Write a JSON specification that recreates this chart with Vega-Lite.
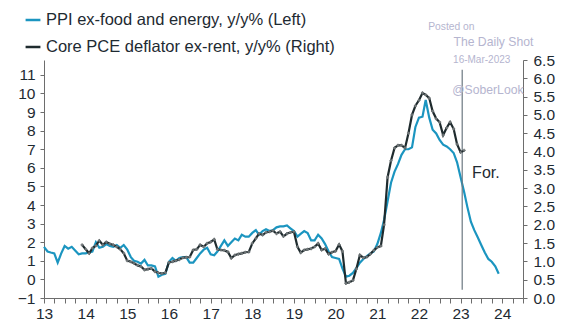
{
  "$schema": "https://vega.github.io/schema/vega-lite/v6.json",
  "width": 479,
  "height": 238,
  "autosize": "none",
  "padding": {"left": 44, "top": 60, "right": 41, "bottom": 33},
  "background": "white",
  "config": {
    "view": {"stroke": null},
    "font": "Liberation Sans",
    "axis": {"labelFont": "Liberation Sans", "labelColor": "#1e2a32", "domainColor": "#6d6d6d", "tickColor": "#6d6d6d", "grid": false, "labelFontSize": 15.5, "labelOverlap": false}
  },
  "datasets": {
    "ppi": [
      {"date": "2013-01-01", "v": 1.75}, {"date": "2013-02-01", "v": 1.5}, {"date": "2013-03-01", "v": 1.45}, {"date": "2013-04-01", "v": 1.4}, {"date": "2013-05-01", "v": 0.9}, {"date": "2013-06-01", "v": 1.4}, {"date": "2013-07-01", "v": 1.8}, {"date": "2013-08-01", "v": 1.65}, {"date": "2013-09-01", "v": 1.75}, {"date": "2013-10-01", "v": 1.55}, {"date": "2013-11-01", "v": 1.35}, {"date": "2013-12-01", "v": 1.4},
      {"date": "2014-01-01", "v": 1.4}, {"date": "2014-02-01", "v": 1.45}, {"date": "2014-03-01", "v": 1.5}, {"date": "2014-04-01", "v": 2.0}, {"date": "2014-05-01", "v": 1.7}, {"date": "2014-06-01", "v": 1.75}, {"date": "2014-07-01", "v": 1.9}, {"date": "2014-08-01", "v": 1.8}, {"date": "2014-09-01", "v": 1.75}, {"date": "2014-10-01", "v": 1.85}, {"date": "2014-11-01", "v": 1.7}, {"date": "2014-12-01", "v": 1.85},
      {"date": "2015-01-01", "v": 1.6}, {"date": "2015-02-01", "v": 1.2}, {"date": "2015-03-01", "v": 1.0}, {"date": "2015-04-01", "v": 0.95}, {"date": "2015-05-01", "v": 0.85}, {"date": "2015-06-01", "v": 1.05}, {"date": "2015-07-01", "v": 0.75}, {"date": "2015-08-01", "v": 0.75}, {"date": "2015-09-01", "v": 0.7}, {"date": "2015-10-01", "v": 0.15}, {"date": "2015-11-01", "v": 0.25}, {"date": "2015-12-01", "v": 0.3},
      {"date": "2016-01-01", "v": 0.95}, {"date": "2016-02-01", "v": 1.15}, {"date": "2016-03-01", "v": 1.0}, {"date": "2016-04-01", "v": 1.15}, {"date": "2016-05-01", "v": 1.2}, {"date": "2016-06-01", "v": 1.2}, {"date": "2016-07-01", "v": 0.9}, {"date": "2016-08-01", "v": 0.9}, {"date": "2016-09-01", "v": 1.15}, {"date": "2016-10-01", "v": 1.4}, {"date": "2016-11-01", "v": 1.6}, {"date": "2016-12-01", "v": 1.7},
      {"date": "2017-01-01", "v": 1.35}, {"date": "2017-02-01", "v": 1.3}, {"date": "2017-03-01", "v": 1.5}, {"date": "2017-04-01", "v": 1.8}, {"date": "2017-05-01", "v": 2.1}, {"date": "2017-06-01", "v": 1.8}, {"date": "2017-07-01", "v": 2.0}, {"date": "2017-08-01", "v": 2.2}, {"date": "2017-09-01", "v": 2.1}, {"date": "2017-10-01", "v": 2.4}, {"date": "2017-11-01", "v": 2.3}, {"date": "2017-12-01", "v": 2.3},
      {"date": "2018-01-01", "v": 2.5}, {"date": "2018-02-01", "v": 2.65}, {"date": "2018-03-01", "v": 2.4}, {"date": "2018-04-01", "v": 2.6}, {"date": "2018-05-01", "v": 2.7}, {"date": "2018-06-01", "v": 2.6}, {"date": "2018-07-01", "v": 2.65}, {"date": "2018-08-01", "v": 2.8}, {"date": "2018-09-01", "v": 2.85}, {"date": "2018-10-01", "v": 2.85}, {"date": "2018-11-01", "v": 2.9}, {"date": "2018-12-01", "v": 2.75},
      {"date": "2019-01-01", "v": 2.6}, {"date": "2019-02-01", "v": 2.3}, {"date": "2019-03-01", "v": 2.45}, {"date": "2019-04-01", "v": 2.6}, {"date": "2019-05-01", "v": 2.5}, {"date": "2019-06-01", "v": 2.1}, {"date": "2019-07-01", "v": 2.1}, {"date": "2019-08-01", "v": 2.4}, {"date": "2019-09-01", "v": 2.2}, {"date": "2019-10-01", "v": 1.9}, {"date": "2019-11-01", "v": 1.5}, {"date": "2019-12-01", "v": 1.2},
      {"date": "2020-01-01", "v": 1.15}, {"date": "2020-02-01", "v": 1.1}, {"date": "2020-03-01", "v": 0.6}, {"date": "2020-04-01", "v": 0.15}, {"date": "2020-05-01", "v": 0.2}, {"date": "2020-06-01", "v": 0.35}, {"date": "2020-07-01", "v": 0.6}, {"date": "2020-08-01", "v": 0.9}, {"date": "2020-09-01", "v": 1.1}, {"date": "2020-10-01", "v": 1.25}, {"date": "2020-11-01", "v": 1.4}, {"date": "2020-12-01", "v": 1.5},
      {"date": "2021-01-01", "v": 1.9}, {"date": "2021-02-01", "v": 2.5}, {"date": "2021-03-01", "v": 3.2}, {"date": "2021-04-01", "v": 4.2}, {"date": "2021-05-01", "v": 5.2}, {"date": "2021-06-01", "v": 5.8}, {"date": "2021-07-01", "v": 6.2}, {"date": "2021-08-01", "v": 6.7}, {"date": "2021-09-01", "v": 7.0}, {"date": "2021-10-01", "v": 7.0}, {"date": "2021-11-01", "v": 7.1}, {"date": "2021-12-01", "v": 8.2},
      {"date": "2022-01-01", "v": 8.7}, {"date": "2022-02-01", "v": 8.75}, {"date": "2022-03-01", "v": 9.65}, {"date": "2022-04-01", "v": 8.7}, {"date": "2022-05-01", "v": 8.05}, {"date": "2022-06-01", "v": 7.85}, {"date": "2022-07-01", "v": 7.5}, {"date": "2022-08-01", "v": 7.25}, {"date": "2022-09-01", "v": 7.15}, {"date": "2022-10-01", "v": 7.0}, {"date": "2022-11-01", "v": 6.8}, {"date": "2022-12-01", "v": 6.3},
      {"date": "2023-01-01", "v": 5.5}, {"date": "2023-02-01", "v": 4.7}, {"date": "2023-03-01", "v": 3.9}, {"date": "2023-04-01", "v": 3.1}, {"date": "2023-05-01", "v": 2.65}, {"date": "2023-06-01", "v": 2.25}, {"date": "2023-07-01", "v": 1.85}, {"date": "2023-08-01", "v": 1.45}, {"date": "2023-09-01", "v": 1.1}, {"date": "2023-10-01", "v": 0.95}, {"date": "2023-11-01", "v": 0.7}, {"date": "2023-12-01", "v": 0.3}
    ],
    "pce": [
      {"date": "2013-12-01", "v": 1.45},
      {"date": "2014-01-01", "v": 1.33}, {"date": "2014-02-01", "v": 1.22}, {"date": "2014-03-01", "v": 1.36}, {"date": "2014-04-01", "v": 1.43}, {"date": "2014-05-01", "v": 1.57}, {"date": "2014-06-01", "v": 1.45}, {"date": "2014-07-01", "v": 1.53}, {"date": "2014-08-01", "v": 1.48}, {"date": "2014-09-01", "v": 1.45}, {"date": "2014-10-01", "v": 1.4}, {"date": "2014-11-01", "v": 1.33}, {"date": "2014-12-01", "v": 1.22},
      {"date": "2015-01-01", "v": 1.02}, {"date": "2015-02-01", "v": 0.99}, {"date": "2015-03-01", "v": 0.95}, {"date": "2015-04-01", "v": 0.89}, {"date": "2015-05-01", "v": 0.86}, {"date": "2015-06-01", "v": 0.77}, {"date": "2015-07-01", "v": 0.79}, {"date": "2015-08-01", "v": 0.81}, {"date": "2015-09-01", "v": 0.72}, {"date": "2015-10-01", "v": 0.69}, {"date": "2015-11-01", "v": 0.67}, {"date": "2015-12-01", "v": 0.69},
      {"date": "2016-01-01", "v": 0.97}, {"date": "2016-02-01", "v": 0.99}, {"date": "2016-03-01", "v": 1.02}, {"date": "2016-04-01", "v": 1.05}, {"date": "2016-05-01", "v": 1.1}, {"date": "2016-06-01", "v": 1.11}, {"date": "2016-07-01", "v": 1.12}, {"date": "2016-08-01", "v": 1.31}, {"date": "2016-09-01", "v": 1.33}, {"date": "2016-10-01", "v": 1.45}, {"date": "2016-11-01", "v": 1.4}, {"date": "2016-12-01", "v": 1.49},
      {"date": "2017-01-01", "v": 1.53}, {"date": "2017-02-01", "v": 1.6}, {"date": "2017-03-01", "v": 1.33}, {"date": "2017-04-01", "v": 1.31}, {"date": "2017-05-01", "v": 1.3}, {"date": "2017-06-01", "v": 1.26}, {"date": "2017-07-01", "v": 1.09}, {"date": "2017-08-01", "v": 1.17}, {"date": "2017-09-01", "v": 1.2}, {"date": "2017-10-01", "v": 1.22}, {"date": "2017-11-01", "v": 1.25}, {"date": "2017-12-01", "v": 1.26},
      {"date": "2018-01-01", "v": 1.49}, {"date": "2018-02-01", "v": 1.63}, {"date": "2018-03-01", "v": 1.76}, {"date": "2018-04-01", "v": 1.72}, {"date": "2018-05-01", "v": 1.79}, {"date": "2018-06-01", "v": 1.81}, {"date": "2018-07-01", "v": 1.84}, {"date": "2018-08-01", "v": 1.76}, {"date": "2018-09-01", "v": 1.81}, {"date": "2018-10-01", "v": 1.68}, {"date": "2018-11-01", "v": 1.76}, {"date": "2018-12-01", "v": 1.79},
      {"date": "2019-01-01", "v": 1.81}, {"date": "2019-02-01", "v": 1.4}, {"date": "2019-03-01", "v": 1.24}, {"date": "2019-04-01", "v": 1.31}, {"date": "2019-05-01", "v": 1.33}, {"date": "2019-06-01", "v": 1.35}, {"date": "2019-07-01", "v": 1.4}, {"date": "2019-08-01", "v": 1.49}, {"date": "2019-09-01", "v": 1.31}, {"date": "2019-10-01", "v": 1.35}, {"date": "2019-11-01", "v": 1.2}, {"date": "2019-12-01", "v": 1.25},
      {"date": "2020-01-01", "v": 1.28}, {"date": "2020-02-01", "v": 1.46}, {"date": "2020-03-01", "v": 1.28}, {"date": "2020-04-01", "v": 0.4}, {"date": "2020-05-01", "v": 0.43}, {"date": "2020-06-01", "v": 0.48}, {"date": "2020-07-01", "v": 0.79}, {"date": "2020-08-01", "v": 1.17}, {"date": "2020-09-01", "v": 1.1}, {"date": "2020-10-01", "v": 1.12}, {"date": "2020-11-01", "v": 1.2}, {"date": "2020-12-01", "v": 1.3},
      {"date": "2021-01-01", "v": 1.38}, {"date": "2021-02-01", "v": 1.42}, {"date": "2021-03-01", "v": 2.0}, {"date": "2021-04-01", "v": 3.3}, {"date": "2021-05-01", "v": 3.75}, {"date": "2021-06-01", "v": 4.1}, {"date": "2021-07-01", "v": 4.17}, {"date": "2021-08-01", "v": 4.17}, {"date": "2021-09-01", "v": 4.1}, {"date": "2021-10-01", "v": 4.5}, {"date": "2021-11-01", "v": 5.0}, {"date": "2021-12-01", "v": 5.25},
      {"date": "2022-01-01", "v": 5.4}, {"date": "2022-02-01", "v": 5.6}, {"date": "2022-03-01", "v": 5.55}, {"date": "2022-04-01", "v": 5.46}, {"date": "2022-05-01", "v": 5.1}, {"date": "2022-06-01", "v": 4.9}, {"date": "2022-07-01", "v": 4.8}, {"date": "2022-08-01", "v": 4.45}, {"date": "2022-09-01", "v": 4.65}, {"date": "2022-10-01", "v": 4.8}, {"date": "2022-11-01", "v": 4.62}, {"date": "2022-12-01", "v": 4.2},
      {"date": "2023-01-01", "v": 3.98}, {"date": "2023-02-01", "v": 4.03}
    ],
    "one": [{}]
  },
  "layer": [
    {
      "layer": [
        {
          "data": {"name": "ppi"},
          "mark": {"type": "line", "strokeWidth": 2.2, "color": "#1b95c0"},
          "encoding": {
            "x": {
              "field": "date", "type": "temporal", "title": null,
              "scale": {"type": "utc", "domain": [{"year": 2013, "month": 1, "date": 1, "utc": true}, {"year": 2024, "month": 7, "date": 1, "utc": true}]},
              "axis": {"tickCount": {"interval": "month", "step": 3}, "labelExpr": "utcmonth(datum.value) == 0 ? utcFormat(datum.value, '%y') : ''", "labelOverlap": false, "labelFlush": false, "tickSize": 5, "labelPadding": 3, "title": null}
            },
            "y": {
              "field": "v", "type": "quantitative", "title": null,
              "scale": {"domain": [-1, 11.8], "nice": false, "zero": false},
              "axis": {"values": [-1, 0, 1, 2, 3, 4, 5, 6, 7, 8, 9, 10, 11], "tickCount": 30, "format": "d", "tickSize": 4, "labelPadding": 5, "labelOverlap": false, "title": null}
            },
            "color": {
              "datum": "PPI ex-food and energy, y/y% (Left)",
              "type": "nominal",
              "scale": {"domain": ["PPI ex-food and energy, y/y% (Left)", "Core PCE deflator ex-rent, y/y% (Right)"], "range": ["#1b95c0", "#1f2b2e"]},
              "legend": {"orient": "none", "legendX": -20, "legendY": -49, "direction": "vertical", "title": null, "symbolType": "stroke", "symbolStrokeWidth": 2.5, "symbolSize": 220, "labelFontSize": 16.5, "labelFont": "Liberation Sans", "labelColor": "#1e2a32", "rowPadding": 9, "labelOffset": 4, "labelLimit": 400}
            }
          }
        },
        {
          "data": {"name": "one"},
          "mark": {"type": "rule", "color": "#6b7880", "strokeWidth": 1.2},
          "encoding": {
            "x": {"datum": {"year": 2023, "month": 1, "date": 15, "utc": true}, "type": "temporal"},
            "y": {"datum": 11.28, "type": "quantitative"},
            "y2": {"datum": -0.55}
          }
        },
        {
          "data": {"name": "one"},
          "mark": {"type": "text", "text": "For.", "align": "left", "baseline": "middle", "fontSize": 16, "color": "#1e2a32"},
          "encoding": {
            "x": {"datum": {"year": 2023, "month": 4, "date": 12, "utc": true}, "type": "temporal"},
            "y": {"datum": 5.72, "type": "quantitative"}
          }
        },
        {
          "data": {"name": "one"},
          "mark": {"type": "text", "text": "Posted on", "align": "center", "baseline": "middle", "fontSize": 10.3, "color": "#b5b5cf"},
          "encoding": {
            "x": {"datum": {"year": 2022, "month": 10, "date": 12, "utc": true}, "type": "temporal"},
            "y": {"datum": 13.58, "type": "quantitative"}
          }
        },
        {
          "data": {"name": "one"},
          "mark": {"type": "text", "text": "The Daily Shot", "align": "center", "baseline": "middle", "fontSize": 12.2, "color": "#b5b5cf"},
          "encoding": {
            "x": {"datum": {"year": 2023, "month": 10, "date": 16, "utc": true}, "type": "temporal"},
            "y": {"datum": 12.77, "type": "quantitative"}
          }
        },
        {
          "data": {"name": "one"},
          "mark": {"type": "text", "text": "16-Mar-2023", "align": "center", "baseline": "middle", "fontSize": 10, "color": "#b5b5cf"},
          "encoding": {
            "x": {"datum": {"year": 2023, "month": 7, "date": 5, "utc": true}, "type": "temporal"},
            "y": {"datum": 11.78, "type": "quantitative"}
          }
        },
        {
          "data": {"name": "one"},
          "mark": {"type": "text", "text": "@SoberLook", "align": "center", "baseline": "middle", "fontSize": 12.2, "color": "#b5b5cf"},
          "encoding": {
            "x": {"datum": {"year": 2023, "month": 8, "date": 28, "utc": true}, "type": "temporal"},
            "y": {"datum": 10.2, "type": "quantitative"}
          }
        }
      ]
    },
    {
      "data": {"name": "pce"},
      "layer": [
        {
          "mark": {"type": "line", "strokeWidth": 2.2, "color": "#1f2b2e"},
          "encoding": {
            "x": {"field": "date", "type": "temporal", "title": null},
            "y": {
              "field": "v", "type": "quantitative", "title": null,
              "scale": {"domain": [0, 6.5], "nice": false, "zero": false},
              "axis": {"orient": "right", "values": [0, 0.5, 1, 1.5, 2, 2.5, 3, 3.5, 4, 4.5, 5, 5.5, 6, 6.5], "tickCount": 30, "format": ".1f", "tickSize": 4, "labelPadding": 6, "labelOverlap": false, "title": null}
            },
            "color": {"datum": "Core PCE deflator ex-rent, y/y% (Right)", "type": "nominal"}
          }
        },
        {
          "mark": {"type": "point", "shape": "cross", "size": 10, "filled": true, "color": "#707678", "opacity": 1},
          "encoding": {
            "x": {"field": "date", "type": "temporal"},
            "y": {"field": "v", "type": "quantitative"}
          }
        }
      ]
    }
  ],
  "resolve": {"scale": {"y": "independent"}}
}
